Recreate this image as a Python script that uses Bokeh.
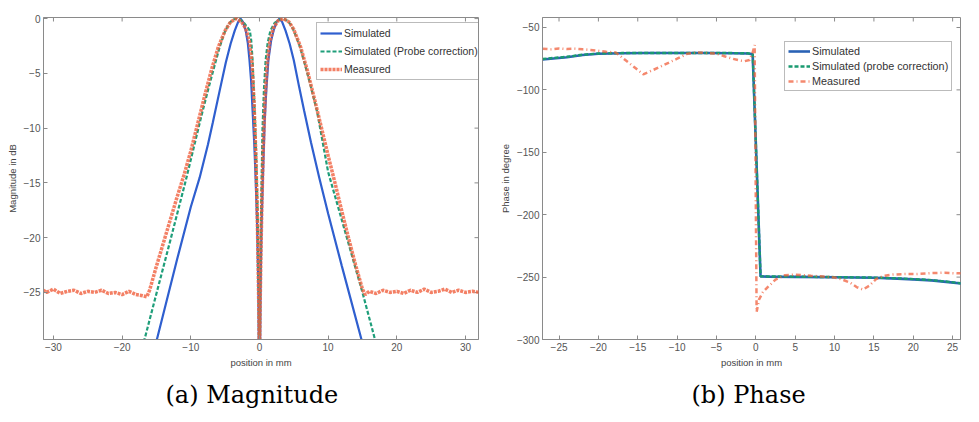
import math
from bokeh.plotting import figure
from bokeh.models import Range1d, Legend, LegendItem, Title, FixedTicker
from bokeh.layouts import row
from bokeh.embed import file_html
from bokeh.resources import INLINE

# ---------------- (a) Magnitude ----------------
sim_mag_x = [-15.5, -14.9, -12.0, -10.0, -8.7, -7.5, -6.8, -5.8, -4.9, -4.2,
             -3.6, -3.1, -2.75, -2.4, -2.0, -1.7, -1.45, -1.2, -1.0, -0.75,
             -0.55, -0.35, -0.15, 0.0, 0.15, 0.3, 0.5, 0.75, 1.0, 1.3,
             1.7, 2.1, 2.5, 2.9, 3.3, 3.8, 4.4, 5.0, 5.8, 6.5,
             7.5, 8.7, 10.0, 12.0, 14.9, 15.5]
sim_mag_y = [-30.6, -29.2, -22.0, -17.2, -14.5, -11.5, -9.5, -6.6, -4.0, -2.3,
             -1.1, -0.3, 0.0, -0.3, -1.1, -2.2, -3.8, -5.8, -8.4, -11.5,
             -14.7, -18.5, -25.0, -40.0, -25.0, -19.0, -14.5, -9.5, -6.5, -3.8,
             -2.0, -1.0, -0.3, 0.0, -0.3, -1.1, -2.3, -3.8, -6.3, -8.4,
             -11.3, -14.5, -17.8, -22.6, -29.4, -30.8]

probe_mag_x = [-17.3, -16.7, -15.0, -13.0, -10.7, -8.5, -7.4, -6.5, -5.8, -5.1,
               -4.5, -3.9, -3.3, -2.8, -2.3, -1.8, -1.4, -1.2, -1.0, -0.7,
               -0.45, -0.25, -0.1, 0.0, 0.1, 0.25, 0.45, 0.65, 0.9, 1.2,
               1.6, 2.2, 2.9, 3.5, 4.1, 4.6, 5.0, 5.8, 6.5, 7.4,
               8.4, 10.0, 13.0, 15.0, 16.7, 17.3]
probe_mag_y = [-30.6, -29.2, -25.1, -20.3, -14.7, -9.0, -6.3, -4.2, -2.6, -1.3,
               -0.5, -0.1, 0.0, -0.1, -0.35, -0.75, -1.1, -2.0, -3.8, -8.4,
               -13.0, -18.0, -25.0, -40.0, -25.0, -17.0, -10.0, -6.5, -3.8, -2.2,
               -1.1, -0.4, -0.1, 0.0, -0.2, -0.6, -1.1, -2.4, -3.9, -6.0,
               -8.5, -14.0, -20.6, -25.0, -29.0, -30.4]

meas_mag_x = [-31.5, -31.0, -30.0, -29.0, -28.0, -27.0, -26.0, -25.0, -24.0, -23.0,
              -22.0, -21.0, -20.0, -19.0, -18.0, -17.0, -16.4,
              -16.0, -15.0, -14.0, -13.0, -12.0, -11.0, -10.0, -9.0, -8.0, -7.0,
              -6.0, -5.0, -4.2, -3.4, -2.6, -2.0, -1.5, -1.1, -0.8, -0.55,
              -0.35, -0.2, -0.08, 0.0, 0.08, 0.2, 0.35, 0.55, 0.8, 1.1,
              1.5, 2.0, 2.7, 3.5, 4.3, 5.0, 6.0, 7.0, 8.0, 9.0,
              10.0, 11.0, 12.0, 13.0, 14.0, 15.0, 15.4, 16.0, 17.0, 18.0,
              19.0, 20.0, 21.0, 22.0, 23.0, 24.0, 25.0, 26.0, 27.0, 28.0,
              29.0, 30.0, 31.0, 32.0]
meas_mag_y = [-24.8, -25.0, -24.7, -25.1, -24.9, -24.8, -25.1, -24.9, -25.0, -24.8,
              -25.1, -25.0, -25.2, -24.9, -25.2, -25.3, -25.4,
              -24.8, -22.6, -20.5, -18.4, -16.3, -14.3, -12.1, -9.6, -7.1, -4.7,
              -2.6, -1.1, -0.3, 0.0, -0.3, -0.9, -2.0, -4.0, -7.5, -12.0,
              -17.0, -22.0, -27.0, -31.0, -27.0, -22.0, -17.0, -12.0, -7.5, -4.2,
              -2.1, -0.9, -0.2, 0.0, -0.3, -1.0, -2.6, -4.8, -7.3, -9.9,
              -12.5, -15.0, -17.6, -20.1, -22.5, -24.7, -25.2, -24.9, -25.1, -24.8,
              -25.0, -24.9, -25.1, -24.8, -25.0, -24.7, -25.0, -24.9, -24.7, -25.0,
              -24.8, -25.0, -24.9, -25.0]

mag_xticks = [-30, -20, -10, 0, 10, 20, 30]
mag_yticks = [0, -5, -10, -15, -20, -25]

# ---------------- (b) Phase ----------------
sim_ph_x = [-27.1, -24.0, -22.0, -20.0, -17.0, -14.0, -10.0, -6.0, -3.0, -1.0,
            -0.4, 0.6, 1.5, 5.0, 10.0, 15.0, 18.0, 20.0, 22.3, 24.5, 26.9]
sim_ph_y = [-75.6, -73.8, -72.0, -71.0, -70.6, -70.5, -70.5, -70.5, -70.6, -70.8,
            -71.5, -249.5, -249.6, -249.8, -250.1, -250.5, -251.2, -251.8, -252.6, -254.0, -255.8]

probe_ph_x = [-27.1, -24.0, -22.0, -20.0, -17.0, -14.0, -10.0, -6.0, -3.0, -1.0,
              -0.4, 0.6, 1.5, 5.0, 10.0, 15.0, 18.0, 20.0, 22.3, 24.5, 26.9]
probe_ph_y = [-75.2, -73.5, -71.8, -70.9, -70.5, -70.4, -70.4, -70.4, -70.5, -70.7,
              -71.3, -249.3, -249.5, -249.7, -250.0, -250.4, -251.0, -251.6, -252.4, -253.8, -255.5]

meas_ph_x = [-27.1, -26.0, -25.0, -24.0, -23.0, -22.0, -21.0, -20.2, -19.0, -17.8,
             -16.5, -15.3, -14.3, -13.2, -12.0, -11.0, -10.0, -8.7, -7.5, -6.0,
             -5.0, -4.0, -3.0, -2.0, -1.4, -0.8, -0.4, -0.15, 0.1, 0.4,
             0.9, 1.6, 2.5, 3.7, 5.0, 7.0, 8.5, 10.0, 11.0, 12.0,
             12.8, 13.6, 14.4, 15.3, 16.3, 17.4, 19.0, 20.5, 22.3, 24.0,
             25.5, 26.9]
meas_ph_y = [-67.0, -67.5, -66.8, -67.3, -67.0, -67.5, -68.0, -68.5, -69.5, -70.0,
             -76.5, -82.5, -87.5, -84.5, -81.0, -78.0, -75.0, -71.0, -70.0, -70.5,
             -71.0, -73.0, -75.0, -76.5, -77.0, -76.0, -70.0, -64.0, -278.0, -268.0,
             -262.0, -257.5, -252.0, -248.5, -248.0, -249.0, -249.5, -250.3, -252.0, -254.5,
             -258.0, -260.0, -257.0, -251.5, -249.0, -248.0, -247.5, -247.5, -246.8, -246.5,
             -247.0, -246.8]

ph_xticks = [-25, -20, -15, -10, -5, 0, 5, 10, 15, 20, 25]
ph_yticks = [-50, -100, -150, -200, -250, -300]

BLUE = "#2f5fcf"
GREEN = "#1f9e7a"
RED = "#f0603e"
AXIS = "#8a8a8a"
TICKTXT = "#555555"
FONT = "Liberation Sans"


def style_axes(p, xticks, yticks, xlabel, ylabel):
    for ax in p.xaxis + p.yaxis:
        ax.axis_line_color = AXIS
        ax.major_tick_line_color = AXIS
        ax.major_tick_in = 4
        ax.major_tick_out = 0
        ax.minor_tick_line_color = None
        ax.major_label_text_font = FONT
        ax.major_label_text_font_size = "10px"
        ax.major_label_text_color = TICKTXT
        ax.major_label_standoff = 3
        ax.axis_label_text_font = FONT
        ax.axis_label_text_font_size = "9.5px"
        ax.axis_label_text_font_style = "normal"
        ax.axis_label_text_color = "#444444"
        ax.axis_label_standoff = 3
    p.xaxis.ticker = FixedTicker(ticks=xticks)
    p.yaxis.ticker = FixedTicker(ticks=yticks)
    p.xaxis.axis_label = xlabel
    p.yaxis.axis_label = ylabel
    p.xgrid.grid_line_color = None
    p.ygrid.grid_line_color = None
    p.outline_line_color = AXIS
    # inward ticks on the top and right edges of the box
    xr, yr = p.x_range, p.y_range
    p.ray(x=xticks, y=[yr.end] * len(xticks), length=4, length_units="screen",
          angle=-math.pi / 2, line_color=AXIS, line_width=1)
    p.ray(x=[xr.end] * len(yticks), y=yticks, length=4, length_units="screen",
          angle=math.pi, line_color=AXIS, line_width=1)


def make_legend(items, loc, font_px, lh, sp, pad, gw):
    return Legend(items=items, location=loc,
                  label_text_font=FONT, label_text_font_size=font_px,
                  label_text_color="#333333",
                  glyph_width=gw, glyph_height=lh, label_height=lh,
                  spacing=sp, padding=pad, margin=0, label_standoff=2,
                  border_line_color="#777777", border_line_width=1,
                  background_fill_color="white", background_fill_alpha=1.0)


# ---- left figure ----
p1 = figure(width=487, height=418, output_backend="svg", toolbar_location=None,
            x_range=Range1d(-31.45, 31.9), y_range=Range1d(-29.3, 0.1),
            min_border_left=43, min_border_right=9, min_border_top=17,
            min_border_bottom=79, background_fill_color="white",
            border_fill_color="white")
style_axes(p1, mag_xticks, mag_yticks, "position in mm", "Magnitude in dB")

r1 = p1.line(sim_mag_x, sim_mag_y, line_color=BLUE, line_width=2.2)
r2 = p1.line(probe_mag_x, probe_mag_y, line_color=GREEN, line_width=2.2, line_dash="4 2")
r3 = p1.line(meas_mag_x, meas_mag_y, line_color=RED, line_width=3.5, line_alpha=0.8, line_dash="3 1")

leg1 = make_legend([LegendItem(label="Simulated", renderers=[r1]),
                    LegendItem(label="Simulated (Probe correction)", renderers=[r2]),
                    LegendItem(label="Measured", renderers=[r3])],
                   (273, 259), "10.5px", 14, 4, 3, 22)
p1.add_layout(leg1)

cap1 = Title(text="(a) Magnitude", align="left", offset=122,
             text_font="DejaVu Serif", text_font_size="24px",
             text_font_style="normal", text_color="black", standoff=17)
p1.add_layout(cap1, "below")

# ---- right figure ----
p2 = figure(width=476, height=418, output_backend="svg", toolbar_location=None,
            x_range=Range1d(-27.1, 26.0), y_range=Range1d(-300, -42),
            min_border_left=55, min_border_right=3, min_border_top=17,
            min_border_bottom=79, background_fill_color="white",
            border_fill_color="white")
style_axes(p2, ph_xticks, ph_yticks, "position in mm", "Phase in degree")

q1 = p2.line(sim_ph_x, sim_ph_y, line_color="#2a62b5", line_width=2.6)
q2 = p2.line(probe_ph_x, probe_ph_y, line_color="#1a9a70", line_width=2.4, line_dash="4 2")
q3 = p2.line(meas_ph_x, meas_ph_y, line_color=RED, line_width=2.5, line_alpha=0.75,
             line_dash="5 3 1 3")

leg2 = make_legend([LegendItem(label="Simulated", renderers=[q1]),
                    LegendItem(label="Simulated (probe correction)", renderers=[q2]),
                    LegendItem(label="Measured", renderers=[q3])],
                   (242, 248), "10.8px", 12, 3, 3, 22)
p2.add_layout(leg2)

cap2 = Title(text="(b) Phase", align="left", offset=149,
             text_font="DejaVu Serif", text_font_size="24px",
             text_font_style="normal", text_color="black", standoff=17)
p2.add_layout(cap2, "below")

layout = row(p1, p2)
open("out.html", "w").write(file_html(layout, INLINE))
